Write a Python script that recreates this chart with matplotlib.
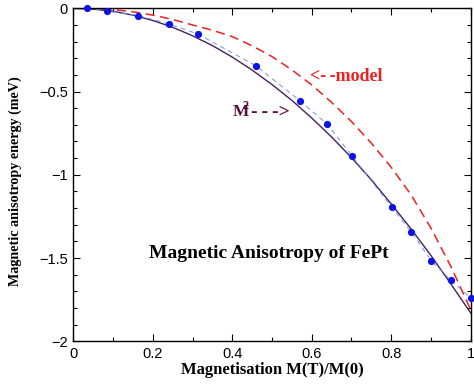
import numpy as np
import matplotlib
matplotlib.use('Agg')
import matplotlib.pyplot as plt
from matplotlib.ticker import MultipleLocator, FuncFormatter

# measured points (blue dots)
m_data = [0.034, 0.084, 0.164, 0.241, 0.313, 0.460, 0.570, 0.639, 0.701,
          0.801, 0.851, 0.901, 0.950, 1.0]
e_data = [0.0, -0.014, -0.044, -0.094, -0.154, -0.346, -0.555, -0.696, -0.885,
          -1.194, -1.345, -1.517, -1.633, -1.739]

# curves
m_curve = [0.0, 0.05, 0.1, 0.15, 0.2, 0.25, 0.3, 0.35, 0.4, 0.45, 0.5,
           0.55, 0.6, 0.65, 0.7, 0.75, 0.8, 0.85, 0.9, 0.95, 1.0]
e_m2 = [0.0, -0.005, -0.018, -0.041, -0.073, -0.114, -0.165, -0.224, -0.293,
        -0.371, -0.458, -0.553, -0.659, -0.773, -0.897, -1.03, -1.175, -1.325,
        -1.485, -1.655, -1.83]
e_model = [0.0, -0.002, -0.008, -0.021, -0.041, -0.067, -0.100, -0.132, -0.170,
           -0.225, -0.29, -0.37, -0.46, -0.565, -0.68, -0.81, -0.955, -1.12,
           -1.32, -1.55, -1.81]

serif = 'Liberation Serif'
sans = 'Liberation Sans'
plt.rcParams['mathtext.fontset'] = 'custom'
plt.rcParams['mathtext.rm'] = 'Liberation Serif:bold'
plt.rcParams['mathtext.bf'] = 'Liberation Serif:bold'

fig = plt.figure(figsize=(4.74, 3.9), dpi=100)
ax = fig.add_axes([0.1547, 0.1249, 0.8383, 0.8538])

ax.plot(m_curve, e_model, color='#ee2020', lw=1.1, dashes=(6, 3.5))
ax.plot(m_curve, e_m2, color='#46205e', lw=1.0)
ax.plot(m_data, e_data, color='#7a8fe6', lw=0.7, dashes=(5, 4))
ax.plot(m_data, e_data, 'o', color='#0a14e6', ms=5.2, mec='none', zorder=5,
        clip_on=False)

ax.set_xlim(0, 1)
ax.set_ylim(-2, 0)
ax.xaxis.set_major_locator(MultipleLocator(0.2))
ax.xaxis.set_minor_locator(MultipleLocator(0.1))
ax.yaxis.set_major_locator(MultipleLocator(0.5))
ax.yaxis.set_minor_locator(MultipleLocator(0.1))
fmt = FuncFormatter(lambda v, p: f"{v:g}".replace('-', '\u2212'))
ax.xaxis.set_major_formatter(fmt)
ax.yaxis.set_major_formatter(fmt)
ax.tick_params(which='both', direction='in', top=True, right=True,
               labelsize=10.5, width=0.8)
ax.tick_params(which='major', length=5, pad=4)
ax.tick_params(which='minor', length=3)
for lab in ax.get_xticklabels() + ax.get_yticklabels():
    lab.set_family(sans)
for s in ax.spines.values():
    s.set_linewidth(1.0)

ax.set_xlabel('Magnetisation M(T)/M(0)', family=serif, weight='bold',
              fontsize=12, labelpad=1)
ax.set_ylabel('Magnetic anisotropy energy (meV)', family=serif, weight='bold',
              fontsize=10.2)
ax.yaxis.set_label_coords(-0.128, 0.48)

ax.text(0.493, -1.475, 'Magnetic Anisotropy of FePt', family=serif,
        weight='bold', fontsize=14, ha='center', va='center')
ax.text(0.596, -0.41, '<-\u2009-model', family=serif, weight='bold',
        fontsize=13, color='#ee2020', ha='left', va='center')
ax.text(0.400, -0.615, r'$\mathbf{M}^{\!\!\!\mathbf{2}}$', fontsize=12.5,
        color='#5a1040', ha='left', va='center')
ax.text(0.446, -0.625, '-\u2009-\u2009->', family=serif,
        weight='bold', fontsize=14, color='#5a1040', ha='left', va='center')

fig.savefig('out.png', dpi=100)
